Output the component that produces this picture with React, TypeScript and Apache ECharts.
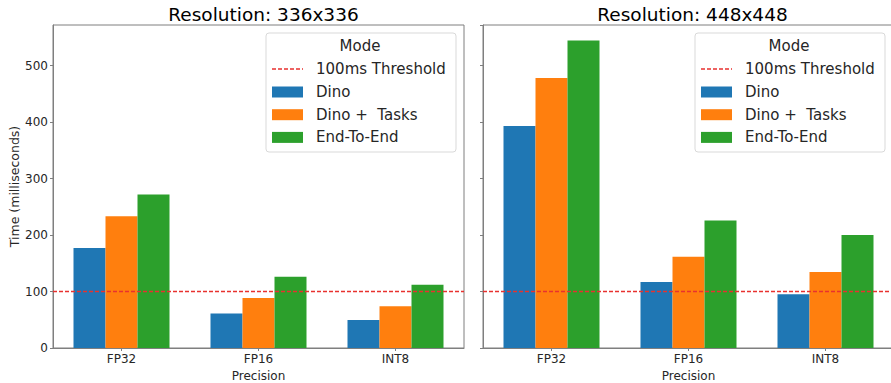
import React, { useEffect, useRef } from "react";
import * as echarts from "echarts";

const categories = ["FP32", "FP16", "INT8"];
const seriesNames = ["Dino", "Dino +  Tasks", "End-To-End"];
const colors = ["#1f77b4", "#ff7f0e", "#2ca02c"];
const titles = ["Resolution: 336x336", "Resolution: 448x448"];

const dino336 = [177, 61, 49.5];
const dinoTasks336 = [233.5, 88.5, 74];
const endToEnd336 = [272, 126, 112];

const dino448 = [393, 117, 95];
const dinoTasks448 = [478, 161.5, 134.5];
const endToEnd448 = [544.5, 226, 200];

const threshold = 100;
const thresholdLabel = "100ms Threshold";
const legendTitle = "Mode";
const yMax = 572;
const yTicks = [0, 100, 200, 300, 400, 500];

const FONT = "'DejaVu Sans', Verdana, sans-serif";
const TEXT = "#262626";
const SPINE = "#7f7f7f";
const RED = "#e8312f";

export default function App() {
  const ref = useRef<HTMLDivElement>(null);
  useEffect(() => {
    if (!ref.current) return;
    const chart = echarts.init(ref.current, null, { renderer: "svg" });
    const grids = [
      { left: 53, top: 25, width: 411, height: 323 },
      { left: 483, top: 25, width: 411, height: 323 },
    ];
    const data = [
      [dino336, dinoTasks336, endToEnd336],
      [dino448, dinoTasks448, endToEnd448],
    ];
    const series: any[] = [];
    data.forEach((group, gi) => {
      group.forEach((vals, si) => {
        const s: any = {
          type: "bar",
          name: seriesNames[si],
          xAxisIndex: gi,
          yAxisIndex: gi,
          data: vals,
          barWidth: 32,
          barGap: "0%",
          itemStyle: { color: colors[si] },
          silent: true,
        };
        if (si === 2) {
          s.markLine = {
            silent: true,
            symbol: ["none", "none"],
            label: { show: false },
            itemStyle: { color: RED },
            lineStyle: { color: RED, type: [4, 2], width: 1.3, opacity: 1 },
            data: [{ yAxis: threshold, lineStyle: { color: RED, type: [4, 2], width: 1.3 } }],
          };
        }
        series.push(s);
      });
    });

    const legendGraphics: any[] = [];
    [0, 429].forEach((dx) => {
      const bx = 266 + dx;
      const children: any[] = [
        {
          type: "rect",
          shape: { x: bx, y: 33, width: 190, height: 119, r: 3 },
          style: { fill: "rgba(255,255,255,0.85)", stroke: "#d9d9d9", lineWidth: 1 },
          z: 100,
        },
        {
          type: "text",
          x: bx + 94,
          y: 46,
          style: { text: legendTitle, fill: TEXT, font: `15px ${FONT}`, textAlign: "center", textVerticalAlign: "middle" },
          z: 101,
        },
        {
          type: "line",
          shape: { x1: bx + 6, y1: 69, x2: bx + 37, y2: 69 },
          style: { stroke: RED, lineWidth: 1.3, lineDash: [4, 2] },
          z: 101,
        },
        {
          type: "text",
          x: bx + 50,
          y: 69,
          style: { text: thresholdLabel, fill: TEXT, font: `15px ${FONT}`, textVerticalAlign: "middle" },
          z: 101,
        },
      ];
      seriesNames.forEach((n, i) => {
        const y = 92 + i * 22.7;
        children.push({
          type: "rect",
          shape: { x: bx + 6, y: y - 5.5, width: 31, height: 11 },
          style: { fill: colors[i] },
          z: 101,
        });
        children.push({
          type: "text",
          x: bx + 50,
          y,
          style: { text: n, fill: TEXT, font: `15px ${FONT}`, textVerticalAlign: "middle" },
          z: 101,
        });
      });
      legendGraphics.push(...children);
    });

    chart.setOption({
      animation: false,
      backgroundColor: "#ffffff",
      textStyle: { fontFamily: FONT },
      title: titles.map((t, i) => ({
        text: t,
        left: grids[i].left + (i === 0 ? 205.5 : 204.5),
        top: 0,
        textAlign: "center",
        textStyle: { fontSize: 18.5, fontWeight: "normal", color: "#000", fontFamily: FONT },
      })),
      grid: grids.map((g) => ({
        ...g,
        outerBoundsMode: "none",
        containLabel: false,
        show: true,
        borderColor: SPINE,
        borderWidth: 1,
        backgroundColor: "transparent",
      })),
      xAxis: grids.map((_, i) => ({
        type: "category",
        gridIndex: i,
        data: categories,
        name: "Precision",
        nameLocation: "middle",
        nameGap: 20,
        nameTextStyle: { fontSize: 12, color: TEXT, fontFamily: FONT },
        axisLine: { show: true, lineStyle: { color: SPINE } },
        axisTick: { show: true, alignWithLabel: true, length: 3, lineStyle: { color: SPINE } },
        axisLabel: { fontSize: 12, color: TEXT, margin: 5, fontFamily: FONT },
        splitLine: { show: false },
      })),
      yAxis: grids.map((_, i) => ({
        type: "value",
        gridIndex: i,
        min: 0,
        max: yMax,
        interval: 100,
        name: i === 0 ? "Time (milliseconds)" : "",
        nameLocation: "middle",
        nameGap: 32,
        nameTextStyle: { fontSize: 12.5, color: TEXT, fontFamily: FONT },
        axisLine: { show: true, lineStyle: { color: SPINE } },
        axisTick: { show: true, length: 3, lineStyle: { color: SPINE } },
        axisLabel: {
          show: i === 0,
          fontSize: 12,
          color: TEXT,
          margin: 5,
          showMaxLabel: false,
          fontFamily: FONT,
          formatter: (v: number) => (yTicks.includes(v) ? String(v) : ""),
        },
        splitLine: { show: false },
      })),
      series,
      graphic: legendGraphics,
    });
    return () => chart.dispose();
  }, []);
  return <div ref={ref} style={{ position: "absolute", left: 0, top: 0, width: 891, height: 383 }} />;
}
